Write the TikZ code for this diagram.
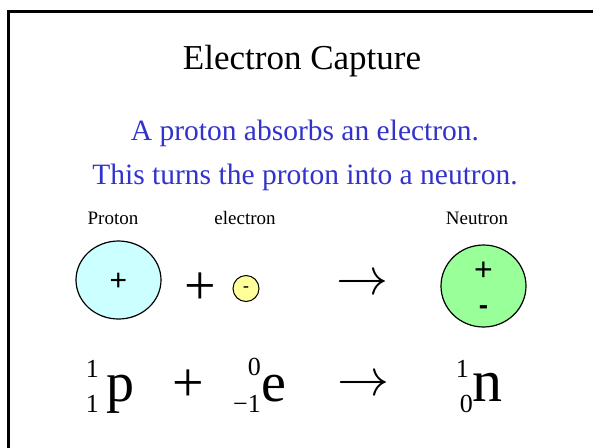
\RequirePackage{fix-cm}
\documentclass[tikz,border=0pt]{standalone}
\usepackage{fontspec}
\setmainfont{Liberation Serif}
\newfontfamily\arialfont{Liberation Sans}
\definecolor{textblue}{RGB}{51,51,204}
\definecolor{protonfill}{RGB}{204,255,255}
\definecolor{electronfill}{RGB}{255,255,153}
\definecolor{neutronfill}{RGB}{153,255,153}
\newcommand{\fsz}[1]{\fontsize{#1}{#1}\selectfont}
\begin{document}
\begin{tikzpicture}[x=1pt,y=-1pt,
  txt/.style={inner sep=0pt,anchor=base},
  lbl/.style={txt,font=\fsz{19}},
  big/.style={txt,font=\fsz{56}},
  num/.style={inner sep=0pt,anchor=base east,font=\fsz{26}},
  sign/.style={inner sep=0pt,font=\arialfont\fsz{24}},
  arrowsym/.style={inner sep=0pt,font=\fsz{52}}]
\useasboundingbox (0,0) rectangle (593,447);
\draw[line width=3pt] (8.5,460) -- (8.5,11.5) -- (610,11.5);
% title and subtitle
\node[txt,font=\fsz{35}] (title) at (302,69) {Electron Capture};
\node[txt,font=\fsz{29.5},text=textblue] (line1) at (305,140) {A proton absorbs an electron.};
\node[txt,font=\fsz{29.5},text=textblue] (line2) at (305,184) {This turns the proton into a neutron.};
% labels
\node[lbl] (lp) at (113,224) {Proton};
\node[lbl] (le) at (245,224) {electron};
\node[lbl] (ln) at (477,224) {Neutron};
% particles
\draw[line width=1.2pt,fill=protonfill] (118.5,280) ellipse [x radius=42.5,y radius=39];
\node[sign,font=\arialfont\fsz{30}] (pplus) at (118.5,282) {+};
\node[big] (plus1) at (200,304) {+};
\draw[line width=1pt,fill=electronfill] (246,288.5) circle [radius=13];
\node[sign,font=\arialfont\fsz{19}] (eminus) at (246,290) {-};
\node[arrowsym] (arr1) at (362,285) {$\rightarrow$};
\draw[line width=1.2pt,fill=neutronfill] (483.5,286) ellipse [x radius=42.5,y radius=41];
\node[sign,font=\arialfont\fsz{32}] (nplus) at (483.5,271) {+};
\node[sign,font=\arialfont\bfseries\fsz{28}] (nminus) at (483.5,310) {-};
% equation
\node[num] (p1) at (99,377) {1};
\node[num] (p2) at (99,412) {1};
\node[big,anchor=base west] (p) at (106,401) {p};
\node[big] (plus2) at (188,401) {+};
\node[num] (e1) at (261,375) {0};
\node[num] (e2) at (261,412) {\char"2212 1};
\node[big,anchor=base west] (e) at (261,401) {e};
\node[arrowsym] (arr2) at (363,386) {$\rightarrow$};
\node[num] (n1) at (469,377) {1};
\node[num] (n2) at (473,412) {0};
\node[big,anchor=base west,font=\fsz{60}] (n) at (472,401) {n};
\end{tikzpicture}
\end{document}
